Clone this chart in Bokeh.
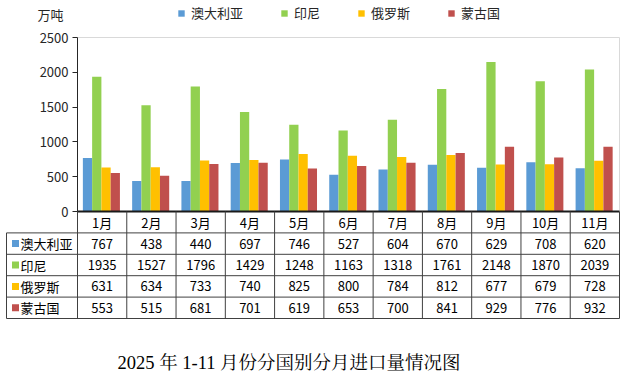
from bokeh.plotting import figure
from bokeh.models import (ColumnDataSource, Range1d, FixedTicker, Legend, LegendItem,
                          Label, LinearAxis)
from bokeh.transform import dodge
from bokeh.core.properties import value
from bokeh.embed import file_html
from bokeh.resources import INLINE

months = ["1月", "2月", "3月", "4月", "5月", "6月", "7月", "8月", "9月", "10月", "11月"]
countries = ["澳大利亚", "印尼", "俄罗斯", "蒙古国"]
aus = [767, 438, 440, 697, 746, 527, 604, 670, 629, 708, 620]
idn = [1935, 1527, 1796, 1429, 1248, 1163, 1318, 1761, 2148, 1870, 2039]
rus = [631, 634, 733, 740, 825, 800, 784, 812, 677, 679, 728]
mng = [553, 515, 681, 701, 619, 653, 700, 841, 929, 776, 932]
yticks = [0, 500, 1000, 1500, 2000, 2500]
unit_label = "万吨"
title_text = "2025 年 1-11 月份分国别分月进口量情况图"
colors = ["#5B9BD5", "#92D050", "#FFC000", "#C0504D"]

FONT = "Noto Sans CJK SC"
series = [aus, idn, rus, mng]
keys = ["aus", "idn", "rus", "mng"]
n = len(months)
nrow = len(countries)
ymax = yticks[-1]

# ---- page geometry (pixels) ----
W, H = 624, 372
px_left, px_right = 77, 619          # plot area / table columns
px_top, px_zero = 37, 211            # value axis top / zero
px_tbl_bottom = 318                  # bottom of table
px_lab_left = 6                      # left edge of table label column
u = (px_right - px_left) / n         # px per category
s = (px_zero - px_top) / ymax        # px per value unit
rh = (px_tbl_bottom - px_zero) / (nrow + 1)   # px per table row

p = figure(x_range=Range1d(-px_left / u, (W - px_left) / u),
           y_range=Range1d(-(H - px_zero) / s, ymax + px_top / s),
           width=W, height=H, min_border_left=0, min_border_right=0, min_border_top=0,
           min_border_bottom=0, x_axis_location=None, y_axis_location=None,
           toolbar_location=None, output_backend="svg")
p.extra_y_ranges = {"tbl": Range1d(-(H - px_tbl_bottom) / rh, (nrow + 1) + px_zero / rh)}
p.outline_line_color = None
p.grid.visible = False
p.background_fill_color = "white"

# ---- value axis ----
ax = LinearAxis(fixed_location=0, bounds=(0, ymax), ticker=FixedTicker(ticks=yticks))
ax.major_label_text_font = FONT
ax.major_label_text_font_size = "13px"
ax.major_label_text_color = "#262626"
ax.major_tick_out = 5
ax.major_tick_in = 0
ax.minor_tick_line_color = None
ax.axis_line_color = "#262626"
ax.major_tick_line_color = "#262626"
ax.major_label_standoff = 4
p.add_layout(ax, "left")

# plot-area border (top and right)
p.segment(x0=[0, n], y0=[ymax, 0], x1=[n, n], y1=[ymax, ymax], line_color="#D9D9D9",
          line_width=1)

# ---- bars ----
src = ColumnDataSource(dict(x=[i + 0.5 for i in range(n)], aus=aus, idn=idn, rus=rus, mng=mng))
bw = 0.188
offsets = [-1.5 * bw, -0.5 * bw, 0.5 * bw, 1.5 * bw]
items = []
for k, name, col, off in zip(keys, countries, colors, offsets):
    r = p.vbar(x=dodge("x", off - 0.015), top=k, width=bw, source=src,
               fill_color=col, line_color=None)
    items.append(LegendItem(label=name, renderers=[r]))

leg = Legend(items=items, orientation="horizontal", location=(177, H - 22),
             glyph_width=8, glyph_height=8, label_standoff=6, spacing=37,
             padding=0, margin=0, border_line_color=None, background_fill_alpha=0,
             label_text_font=FONT, label_text_font_size="13px", label_height=16,
             label_text_color="#262626")
p.add_layout(leg, "center")

p.add_layout(Label(x=(37 - px_left) / u, y=ymax + (px_top - 14) / s, text=unit_label,
                   text_font=FONT, text_font_size="13px", text_baseline="middle",
                   text_align="left", text_color="#262626"))

# x axis line (top of table)
p.segment(x0=[0], y0=[0], x1=[n], y1=[0], line_color="#1a1a1a", line_width=2)

# ---- table ----
xl = -(px_left - px_lab_left) / u
x0s, x1s, y0s, y1s = [], [], [], []
for i in range(n + 1):
    x0s.append(i); x1s.append(i); y0s.append(0); y1s.append(nrow + 1)
x0s.append(xl); x1s.append(xl); y0s.append(0); y1s.append(nrow)
for j in range(nrow + 1):
    x0s.append(xl); x1s.append(n); y0s.append(j); y1s.append(j)
p.segment(x0=x0s, y0=y0s, x1=x1s, y1=y1s, line_color="#404040", line_width=1,
          y_range_name="tbl")

p.text(x=[i + 0.5 for i in range(n)], y=[nrow + 0.5] * n, text=months,
       text_align="center", text_baseline="middle", text_font=value(FONT),
       text_font_size="13px", text_color="#000000", y_range_name="tbl")
tx, ty, tt = [], [], []
for j, vals in enumerate(series):
    for i, v in enumerate(vals):
        tx.append(i + 0.5); ty.append(nrow - j - 0.5); tt.append(str(v))
p.text(x=tx, y=ty, text=tt, text_align="center", text_baseline="middle",
       text_font=value(FONT), text_font_size="13px", text_color="#000000",
       y_range_name="tbl")
ly = [nrow - j - 0.5 for j in range(nrow)]
p.scatter(x=[xl + 9 / u] * nrow, y=ly, marker="square", size=7, fill_color=colors,
          line_color=None, y_range_name="tbl")
p.text(x=[xl] * nrow, y=ly, text=countries, x_offset=14, text_align="left",
       text_baseline="middle", text_font=value(FONT), text_font_size="13px",
       text_color="#000000", y_range_name="tbl")

# ---- caption ----
p.add_layout(Label(x=(117 - px_left) / u, y=-(362 - px_tbl_bottom) / rh, y_range_name="tbl",
                   text=title_text, text_font="Liberation Serif, Noto Serif CJK SC, Noto Sans CJK SC",
                   text_font_size="18.5px", text_baseline="middle", text_align="left",
                   text_color="#000000"))

open("out.html", "w").write(file_html(p, INLINE))
